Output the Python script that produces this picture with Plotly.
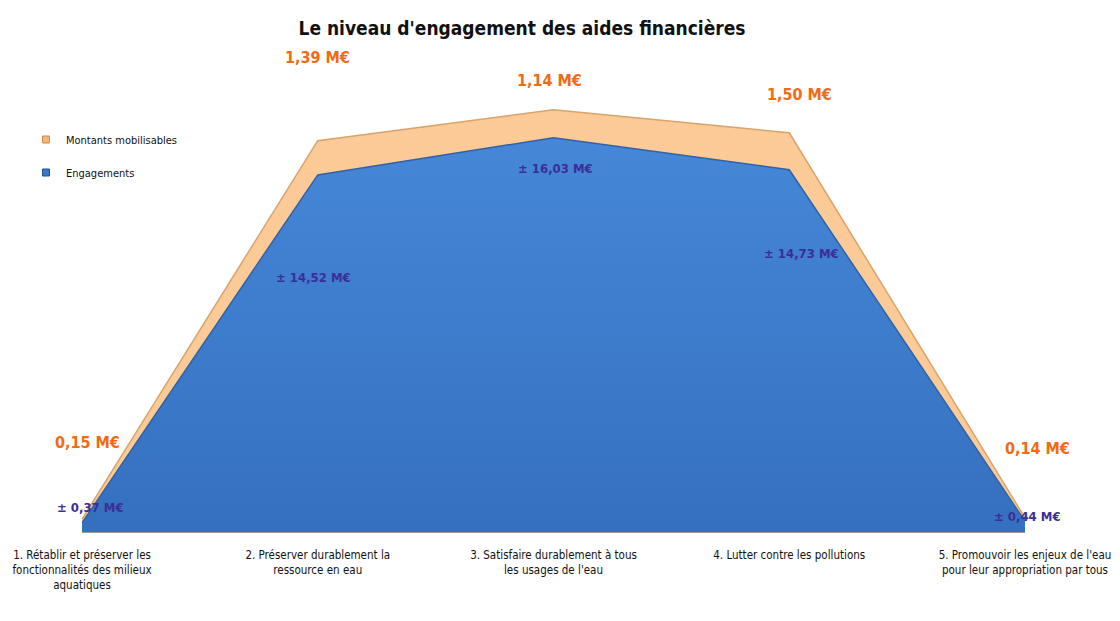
import plotly.graph_objects as go

categories = [
    "1. Rétablir et préserver les<br>fonctionnalités des milieux<br>aquatiques",
    "2. Préserver durablement la<br>ressource en eau",
    "3. Satisfaire durablement à tous<br>les usages de l'eau",
    "4. Lutter contre les pollutions",
    "5. Promouvoir les enjeux de l'eau<br>pour leur appropriation par tous",
]
engagements = [0.37, 14.52, 16.03, 14.73, 0.44]
mobilisables = [0.15, 1.39, 1.14, 1.50, 0.14]
eng_labels = ["± 0,37 M€", "± 14,52 M€", "± 16,03 M€", "± 14,73 M€", "± 0,44 M€"]
mob_labels = ["0,15 M€", "1,39 M€", "1,14 M€", "1,50 M€", "0,14 M€"]

FONT = "Liberation Sans Narrow, DejaVu Sans Condensed, Roboto, sans-serif"
BLUE = "#3f7cc9"
ORANGE = "#fbca97"

x_idx = list(range(len(categories)))

fig = go.Figure()
fig.add_trace(go.Scatter(
    x=x_idx, y=engagements, name="Engagements", stackgroup="s",
    showlegend=False, mode="lines",
    line=dict(color="#2f62a8", width=1.5),
    fillcolor=BLUE,
    fillgradient=dict(type="vertical",
                      colorscale=[[0, "#3570bf"], [1, "#4687d8"]]),
    hoverinfo="skip",
))
fig.add_trace(go.Scatter(
    x=x_idx, y=mobilisables, name="Montants mobilisables", stackgroup="s",
    showlegend=False, mode="lines",
    line=dict(color="#d9a36a", width=1.5),
    fillcolor=ORANGE,
    hoverinfo="skip",
))
# legend entries (square swatches like the original)
fig.add_trace(go.Scatter(
    x=[None], y=[None], name="Montants mobilisables", mode="markers",
    legendrank=1, marker=dict(symbol="square", size=7, color="#f3b77a",
                              line=dict(color="#c98a4a", width=1)),
))
fig.add_trace(go.Scatter(
    x=[None], y=[None], name="Engagements", mode="markers",
    legendrank=2, legendgroup="g2", marker=dict(symbol="square", size=7, color="#3a78c8",
                              line=dict(color="#1f4f8f", width=1)),
))

# label offsets (pixels) relative to the data points
mob_shift = [(5, 77), (0, 83), (-4, 29), (10, 38), (13, 69)]
eng_shift = [(8, 15), (-4, -103), (2, -31), (12, -84), (3, 5)]

annotations = []
for i in x_idx:
    top = engagements[i] + mobilisables[i]
    annotations.append(dict(
        x=i, y=top, xref="x", yref="y", text="<b>" + mob_labels[i] + "</b>", showarrow=False,
        xshift=mob_shift[i][0], yshift=mob_shift[i][1],
        font=dict(family=FONT, size=16, color="#f26a12"),
    ))
    annotations.append(dict(
        x=i, y=engagements[i], xref="x", yref="y", text="<b>" + eng_labels[i] + "</b>", showarrow=False,
        xshift=eng_shift[i][0], yshift=eng_shift[i][1],
        font=dict(family=FONT, size=13, color="#3b2e96"),
    ))

W, H = 1112, 613
fig.update_layout(
    width=W, height=H,
    paper_bgcolor="white", plot_bgcolor="white",
    margin=dict(l=74, r=95, t=69, b=89, autoexpand=False),
    title=dict(text="<b>Le niveau d'engagement des aides financières</b>",
               x=514 / W, xanchor="center", y=1 - 20 / H, yanchor="middle",
               font=dict(family=FONT, size=19, color="#111111")),
    showlegend=True,
    legend=dict(xref="container", yref="container", x=18 / W, y=1 - 117 / H,
                xanchor="left", yanchor="top", traceorder="grouped",
                tracegroupgap=14,
                font=dict(family=FONT, size=11, color="#111111"),
                bgcolor="rgba(0,0,0,0)", itemwidth=30),
    annotations=annotations,
    xaxis=dict(range=[-0.0001, 4.0001], tickmode="array", tickvals=x_idx, ticktext=categories,
               showline=True, linecolor="#9a9a9a", linewidth=1,
               showgrid=False, zeroline=False, ticks="", ticklabelstandoff=12,
               tickfont=dict(family=FONT, size=11.5, color="#111111")),
    yaxis=dict(range=[0, 18.5], visible=False, showgrid=False),
)

fig.write_html("out.html")
